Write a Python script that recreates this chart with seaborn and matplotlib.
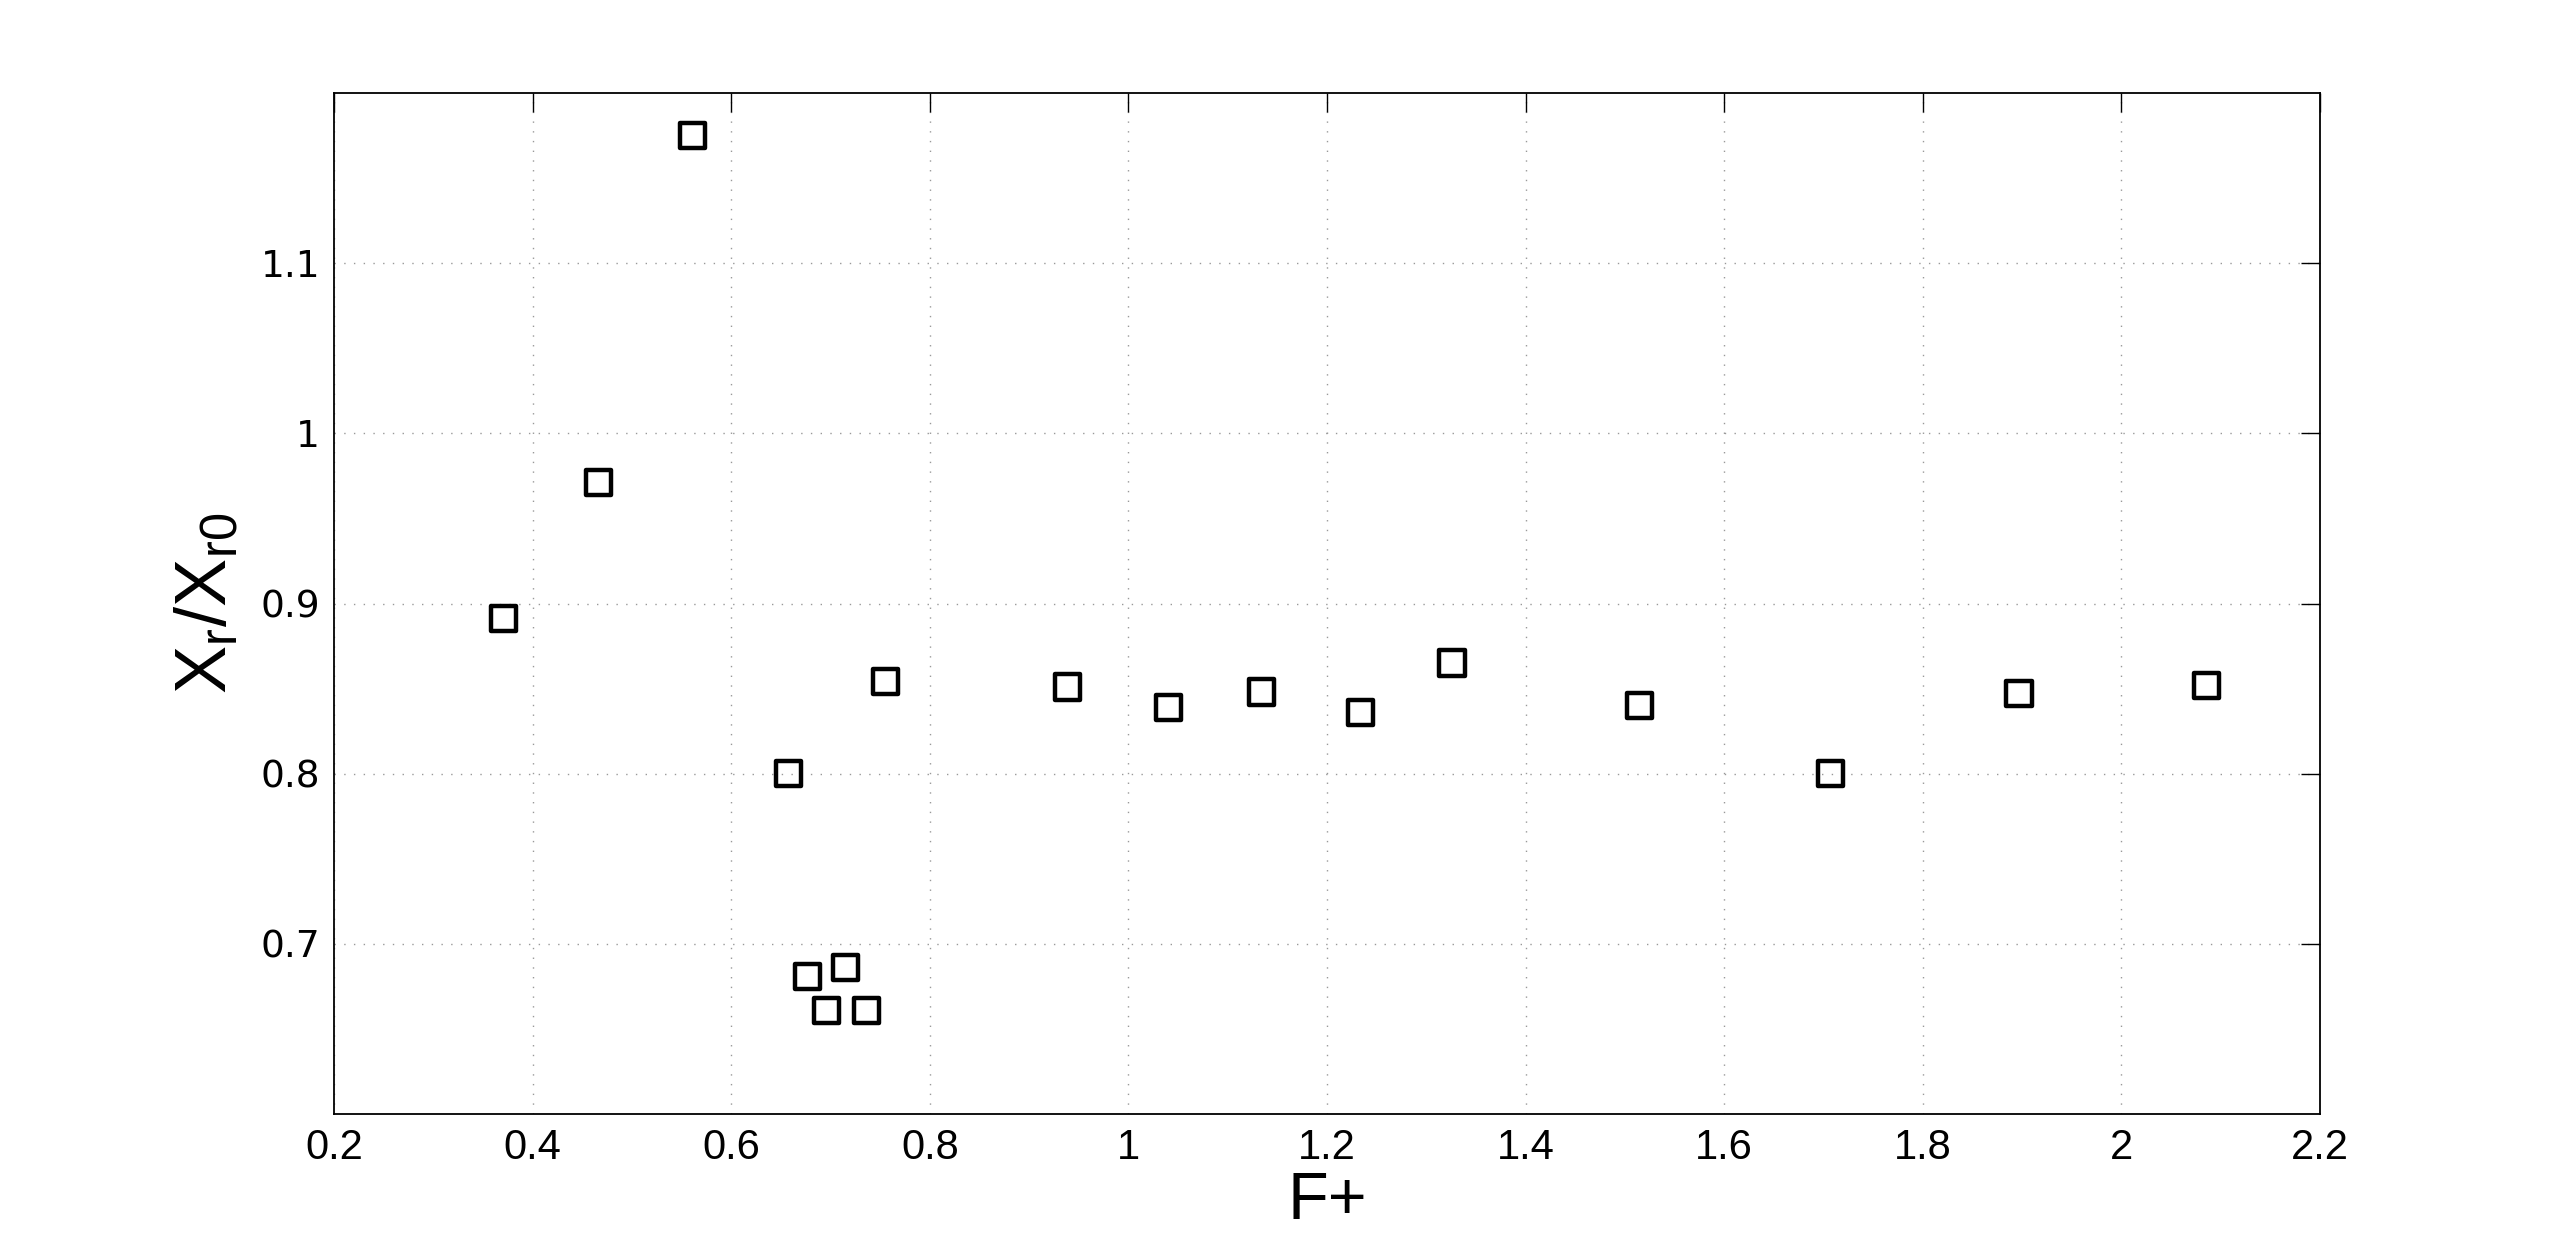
import numpy as np
import pandas as pd
import seaborn as sns
import matplotlib
matplotlib.use("Agg")
import matplotlib.pyplot as plt

# values
f_plus = [0.371, 0.466, 0.561, 0.658, 0.677, 0.696, 0.715, 0.736, 0.755,
          0.939, 1.040, 1.134, 1.234, 1.326, 1.515, 1.707, 1.897, 2.086]
xr_ratio = [0.891, 0.971, 1.175, 0.800, 0.681, 0.661, 0.686, 0.661, 0.854,
            0.851, 0.839, 0.848, 0.836, 0.865, 0.840, 0.800, 0.847, 0.852]
x_ticks = [0.2, 0.4, 0.6, 0.8, 1.0, 1.2, 1.4, 1.6, 1.8, 2.0, 2.2]
x_ticklabels = ["0.2", "0.4", "0.6", "0.8", "1", "1.2", "1.4", "1.6", "1.8", "2", "2.2"]
y_ticks = [0.7, 0.8, 0.9, 1.0, 1.1]
y_ticklabels = ["0.7", "0.8", "0.9", "1", "1.1"]

df = pd.DataFrame({"F+": f_plus, "ratio": xr_ratio})

sns.set_style("white")
plt.rcParams['font.family'] = ['Liberation Sans', 'DejaVu Sans']
plt.rcParams['mathtext.fontset'] = 'custom'
plt.rcParams['mathtext.rm'] = 'Liberation Sans'
plt.rcParams['mathtext.it'] = 'Liberation Sans'
plt.rcParams['text.color'] = 'black'
plt.rcParams['axes.labelcolor'] = 'black'
plt.rcParams['xtick.color'] = 'black'
plt.rcParams['ytick.color'] = 'black'

fig = plt.figure(figsize=(25.64, 12.54), dpi=100)
ax = fig.add_axes([0.1303, 0.1116, 0.7745, 0.8142])

sns.scatterplot(data=df, x="F+", y="ratio", marker="s", s=330,
                facecolor="none", edgecolor="black", linewidth=3.2, ax=ax, zorder=3)

ax.set_xlim(0.2, 2.2)
ax.set_ylim(0.6, 1.2)
ax.set_xticks(x_ticks)
ax.set_xticklabels(x_ticklabels, fontsize=30)
ax.set_yticks(y_ticks)
ax.set_yticklabels(y_ticklabels, fontsize=27, family=['DejaVu Sans'])

ax.grid(True, linestyle=(0, (1, 6)), color="#999999", linewidth=1.0)
ax.tick_params(direction="in", length=14, width=1, top=True, right=True,
               color="black", pad=10)
for sp in ax.spines.values():
    sp.set_color("black")
    sp.set_linewidth(1.3)

ax.set_xlabel("F+", fontsize=48, labelpad=2)
ax.set_ylabel(r"$\mathrm{X_r/X_{r0}}$", fontsize=52, labelpad=14)

fig.savefig("out.png", dpi=100)
